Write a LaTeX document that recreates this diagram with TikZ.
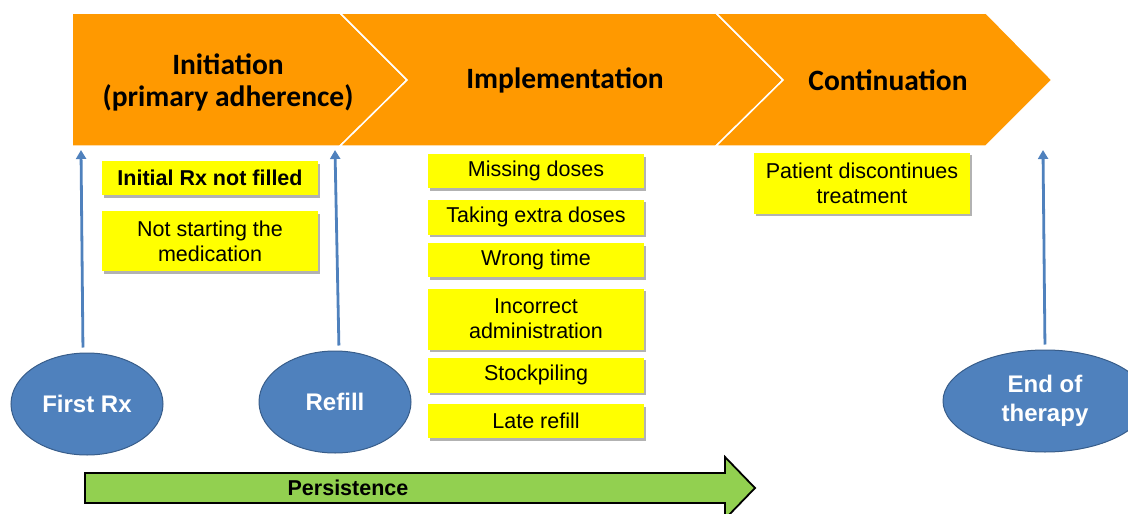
\documentclass[tikz,border=0pt]{standalone}
\usepackage{fontspec}
\setmainfont{Liberation Sans}
\newfontfamily\hdfont{Carlito}
\usetikzlibrary{shapes.geometric,shadows,arrows.meta}
\definecolor{orangefill}{HTML}{FF9900}
\definecolor{yellowfill}{HTML}{FFFF00}
\definecolor{bluefill}{HTML}{4F81BD}
\definecolor{blueline}{HTML}{385D8A}
\definecolor{greenfill}{HTML}{92D050}
\begin{document}
\begin{tikzpicture}[x = 1pt, y = -1pt,
  phase/.style = {fill = orangefill, draw = white, line width = 1.5pt, line join = miter},
  phasetext/.style = {font = \hdfont\bfseries\fontsize{29.5}{32}\selectfont, align = center},
  notebox/.style = {fill = yellowfill, minimum width = 216pt, inner sep = 0pt, align = center,
                    font = \fontsize{21.5}{25}\selectfont,
                    drop shadow = {shadow xshift = 2pt, shadow yshift = -2.5pt, opacity = 0.3, fill = black}},
  event/.style = {ellipse, fill = bluefill, draw = blueline, line width = 1pt, minimum width = 152pt,
                  minimum height = 102pt, inner sep = 0pt, text = white, align = center,
                  font = \bfseries\fontsize{24}{29}\selectfont},
  rise/.style = {draw = bluefill, line width = 2.8pt, -{Triangle[width = 10pt, length = 9pt]}}]
\useasboundingbox (0, 0) rectangle (1128, 514);
\draw[phase] (72, 13) -- (340, 13) -- (407, 80) -- (340, 146) -- (72, 146) -- cycle;
\draw[phase] (340, 13) -- (716, 13) -- (783, 80) -- (716, 146) -- (340, 146) -- (407, 80) -- cycle;
\draw[phase] (716, 13) -- (986, 13) -- (1052, 80) -- (986, 146) -- (716, 146) -- (783, 80) -- cycle;
\node[phasetext] (initiation) at (228, 82) {Initiation\\(primary adherence)};
\node[phasetext] (implementation) at (565, 80) {Implementation};
\node[phasetext] (continuation) at (888, 80) {Continuation};
\node[notebox, minimum height = 34pt, font = \bfseries\fontsize{21.5}{25}\selectfont] (notfilled) at (210, 178) {Initial Rx not filled};
\node[notebox, minimum height = 60pt] (notstarting) at (210, 241) {Not starting the\\medication};
\foreach \y/\h/\name/\txt in {171/34/missing/{Missing doses},
                              217/35/extra/{Taking extra doses},
                              260/34/wrongtime/{Wrong time},
                              319/61/incorrect/{Incorrect\\administration},
                              375/35/stockpiling/{Stockpiling},
                              421/34/laterefill/{Late refill}}
    \node[notebox, minimum height = \h pt] (\name) at (536, \y) {\txt};
\node[notebox, minimum height = 61pt] (discontinues) at (862, 183) {Patient discontinues\\treatment};
\node[event] (firstrx) at (87, 404) {First Rx};
\node[event] (refill) at (335, 402) {Refill};
\node[event, minimum width = 204pt] (endtherapy) at (1045, 401) {End of\\therapy};
\coordinate (firstrxtip) at (81, 150);
\coordinate (refilltip) at (335, 150);
\coordinate (endtherapytip) at (1043, 150);
\draw[rise, shorten <= 5pt] ([xshift = -4pt]firstrx.north) -- (firstrxtip);
\draw[rise, shorten <= 5pt] ([xshift = 4pt]refill.north) -- (refilltip);
\draw[rise, shorten <= 5pt] (endtherapy.north) -- (endtherapytip);
\draw[fill = greenfill, line width = 1.8pt, line join = miter] (85, 473) -- (725, 473) -- (725, 457) -- (755, 488)
    -- (725, 519) -- (725, 503) -- (85, 503) -- cycle;
\node[font = \bfseries\fontsize{21.5}{25}\selectfont] (persistence) at (348, 488) {Persistence};
\end{tikzpicture}
\end{document}
